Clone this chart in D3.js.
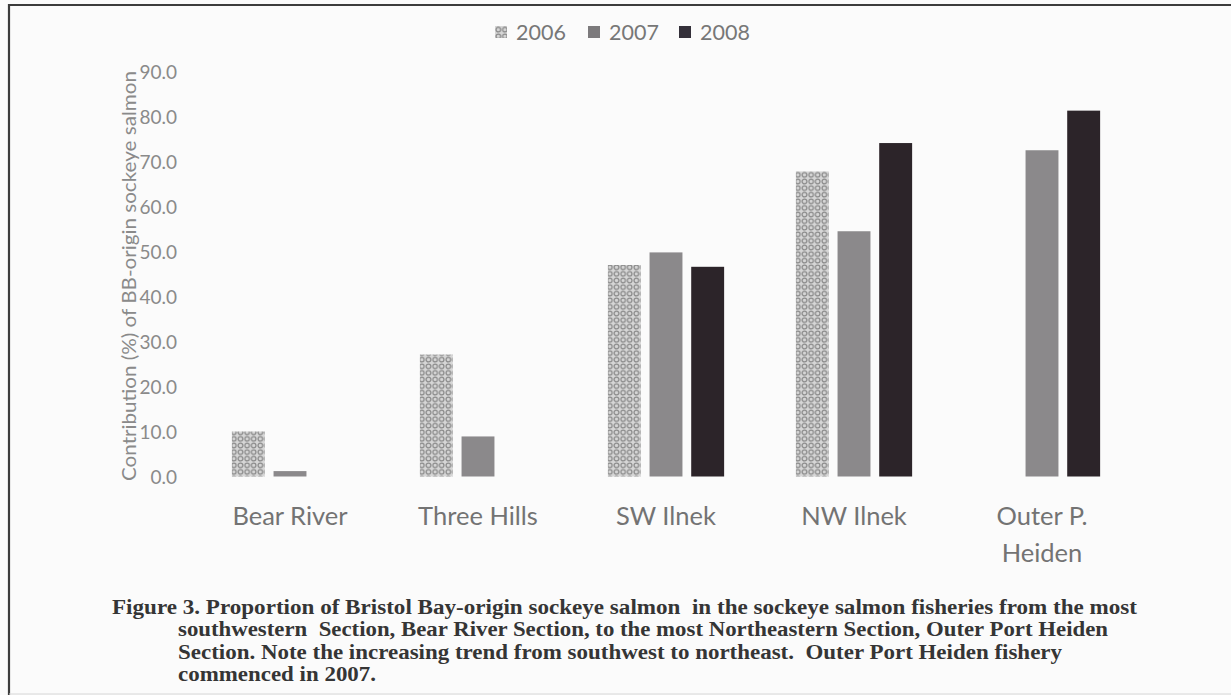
<!DOCTYPE html>
<html>
<head>
<meta charset="utf-8">
<script src="https://cdn.jsdelivr.net/npm/d3@7"></script>
<style>
  html, body { margin: 0; padding: 0; background: #fbfbfb; }
  svg { display: block; }
</style>
</head>
<body>
<svg id="chart" width="1231" height="695"></svg>
<script>
// ---- data ----
const categories = ["Bear River", "Three Hills", "SW Ilnek", "NW Ilnek", "Outer P. Heiden"];
const years = ["2006", "2007", "2008"];
const values2006 = [10.0, 27.1, 47.0, 67.8, null];
const values2007 = [1.2, 8.9, 49.8, 54.5, 72.5];
const values2008 = [null, null, 46.6, 74.1, 81.3];
const yTickValues = [0, 10, 20, 30, 40, 50, 60, 70, 80, 90];
const yTitle = "Contribution (%) of BB-origin sockeye salmon";
const captionLines = [
  "Figure 3. Proportion of Bristol Bay-origin sockeye salmon  in the sockeye salmon fisheries from the most",
  "southwestern  Section, Bear River Section, to the most Northeastern Section, Outer Port Heiden",
  "Section. Note the increasing trend from southwest to northeast.  Outer Port Heiden fishery",
  "commenced in 2007."
];

const seriesValues = { "2006": values2006, "2007": values2007, "2008": values2008 };
const rows = categories.map((c, i) => ({ cat: c, vals: years.map(y => ({ year: y, v: seriesValues[y][i] })) }));

const svg = d3.select("#chart");
const W = 1231, H = 695;

// background + frame
svg.append("rect").attr("x", 0).attr("y", 0).attr("width", W).attr("height", H).attr("fill", "#fbfbfb");
svg.append("path").attr("d", `M9,${H} L9,5 L${W},5`).attr("fill", "none").attr("stroke", "#3c3c3c").attr("stroke-width", 2.2);
svg.append("line").attr("x1", 9).attr("x2", W).attr("y1", H - 1).attr("y2", H - 1).attr("stroke", "#d6d6d6").attr("stroke-width", 1);

// pattern for 2006
const defs = svg.append("defs");
const pat = defs.append("pattern").attr("id", "dots").attr("patternUnits", "userSpaceOnUse")
  .attr("width", 6.6).attr("height", 6.6);
pat.append("rect").attr("width", 6.6).attr("height", 6.6).attr("fill", "#d6d6d6");
pat.append("circle").attr("cx", 3.3).attr("cy", 3.3).attr("r", 2.3).attr("fill", "none")
  .attr("stroke", "#878787").attr("stroke-width", 1.15);

const fills = { "2006": "url(#dots)", "2007": "#8b898b", "2008": "#2c2429" };

// scales
const x0 = d3.scaleBand().domain(categories).range([196, 1136]).padding(0);
const x1 = d3.scaleBand().domain(years).range([-62.5, 62.5]).paddingInner(0.21).paddingOuter(0.105);
const y = d3.scaleLinear().domain([0, 90]).range([476.5, 71.5]);

// y axis
const yAxis = svg.append("g").attr("transform", "translate(177,0)")
  .call(d3.axisLeft(y).tickValues(yTickValues).tickSize(0).tickPadding(0).tickFormat(d3.format(".1f")));
yAxis.select(".domain").remove();
yAxis.selectAll("text").attr("font-family", "Lato, 'Open Sans', sans-serif").attr("font-size", 19)
  .attr("fill", "#8a8a8a").attr("dy", "0.35em");

// y title
svg.append("text").attr("transform", "translate(136,276) rotate(-90)")
  .attr("text-anchor", "middle").attr("font-family", "Lato, 'Open Sans', sans-serif")
  .attr("font-size", 20).attr("fill", "#8a8a8a")
  .attr("textLength", 410).attr("lengthAdjust", "spacingAndGlyphs").text(yTitle);

// bars
const groups = svg.append("g").selectAll("g").data(rows).join("g")
  .attr("transform", d => `translate(${x0(d.cat) + x0.bandwidth() / 2},0)`);
groups.selectAll("rect").data(d => d.vals.filter(v => v.v != null)).join("rect")
  .attr("x", d => x1(d.year))
  .attr("width", x1.bandwidth())
  .attr("y", d => y(d.v))
  .attr("height", d => y(0) - y(d.v))
  .attr("fill", d => fills[d.year]);

// x category labels (wrapped)
const maxLabelW = 150;
const xl = svg.append("g");
categories.forEach(c => {
  const t = xl.append("text").attr("text-anchor", "middle")
    .attr("font-family", "Lato, 'Open Sans', sans-serif").attr("font-size", 25.5).attr("fill", "#737373");
  const words = c.split(" ");
  let line = [], lines = [];
  const probe = t.append("tspan");
  words.forEach(w => {
    const test = line.concat([w]).join(" ");
    probe.text(test);
    if (probe.node().getComputedTextLength() > maxLabelW && line.length) {
      lines.push(line.join(" ")); line = [w];
    } else line.push(w);
  });
  lines.push(line.join(" "));
  probe.remove();
  const cx = x0(c) + x0.bandwidth() / 2;
  lines.forEach((l, i) => {
    t.append("tspan").attr("x", cx).attr("y", 525 + i * 36.5).text(l);
  });
});

// legend
const lg = svg.append("g");
const legX = d3.scaleOrdinal().domain(years).range([495, 588, 679]);
years.forEach(yr => {
  const sx = legX(yr);
  lg.append("rect").attr("x", sx).attr("y", 26).attr("width", 12).attr("height", 12)
    .attr("fill", yr === "2006" ? "url(#dots)" : (yr === "2007" ? "#7c7a7c" : "#34303a"));
  lg.append("text").attr("x", sx + 21).attr("y", 40).attr("font-family", "Lato, 'Open Sans', sans-serif")
    .attr("font-size", 21.5).attr("fill", "#777777").text(yr);
});

// caption
const cap = svg.append("g").attr("font-family", "'Liberation Serif', 'Times New Roman', serif")
  .attr("font-weight", "bold").attr("font-size", 20.5).attr("fill", "#353535");
const capTargets = [1025, 930, 884, 198];
captionLines.forEach((l, i) => {
  cap.append("text").attr("x", i === 0 ? 112 : 178).attr("y", 614 + i * 22.3)
    .attr("textLength", capTargets[i]).attr("lengthAdjust", "spacingAndGlyphs")
    .attr("xml:space", "preserve").text(l);
});
</script>
</body>
</html>
